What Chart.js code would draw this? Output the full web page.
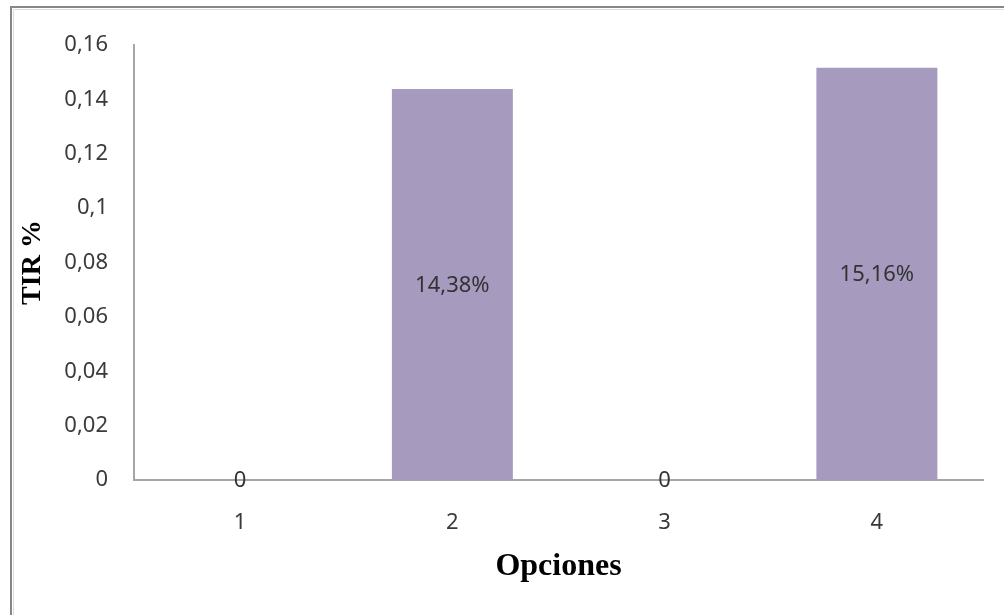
<!DOCTYPE html>
<html>
<head>
<meta charset="utf-8">
<script src="https://cdn.jsdelivr.net/npm/chart.js@4/dist/chart.umd.min.js"></script>
<style>
  html, body { margin: 0; padding: 0; background: #ffffff; }
  #wrap { width: 1004px; height: 615px; position: relative; }
</style>
</head>
<body>
<div id="wrap"><canvas id="c" width="1004" height="615"></canvas></div>
<script>
const categories = ['1', '2', '3', '4'];
const tirValues = [0, 0.1438, 0, 0.1516];
const dataLabels = ['0', '14,38%', '0', '15,16%'];
const yTicks = [0, 0.02, 0.04, 0.06, 0.08, 0.1, 0.12, 0.14, 0.16];
const yTitle = 'TIR %';
const xTitle = 'Opciones';

const frame = {
  id: 'frame',
  beforeDraw(chart) {
    const ctx = chart.ctx;
    ctx.save();
    ctx.fillStyle = '#ffffff';
    ctx.fillRect(0, 0, chart.width, chart.height);
    ctx.strokeStyle = '#dcdcdc';
    ctx.lineWidth = 1;
    ctx.beginPath();
    ctx.moveTo(13.5, 1000); ctx.lineTo(13.5, 9.5); ctx.lineTo(1100, 9.5);
    ctx.stroke();
    ctx.strokeStyle = '#878787';
    ctx.lineWidth = 2;
    ctx.beginPath();
    ctx.moveTo(11, 1000); ctx.lineTo(11, 7); ctx.lineTo(1100, 7);
    ctx.stroke();
    ctx.restore();
  }
};

const barLabels = {
  id: 'barLabels',
  afterDatasetsDraw(chart) {
    const ctx = chart.ctx;
    const meta = chart.getDatasetMeta(0);
    ctx.save();
    ctx.font = '22px "Noto Sans"';
    ctx.fillStyle = '#333333';
    ctx.textAlign = 'center';
    ctx.textBaseline = 'middle';
    meta.data.forEach((bar, i) => {
      const y = (bar.y + bar.base) / 2 + 1;
      ctx.fillText(dataLabels[i], bar.x, y);
    });
    ctx.restore();
  }
};

new Chart(document.getElementById('c'), {
  type: 'bar',
  data: {
    labels: categories,
    datasets: [{
      data: tirValues,
      backgroundColor: '#a69bbf',
      borderWidth: 0,
      categoryPercentage: 1,
      barPercentage: 0.57
    }]
  },
  options: {
    responsive: false,
    animation: false,
    devicePixelRatio: 1,
    layout: { padding: { top: 45, right: 21, left: 0, bottom: 0 } },
    plugins: { legend: { display: false }, tooltip: { enabled: false } },
    scales: {
      x: {
        grid: { display: false, drawTicks: false },
        border: { display: true, color: '#a6a6a6', width: 2 },
        ticks: { color: '#3a3a3a', font: { family: 'Noto Sans', size: 22 }, padding: 30, maxRotation: 0 },
        title: { display: true, text: xTitle, color: '#000000',
                 font: { family: 'Liberation Serif', size: 32, weight: 'bold' },
                 padding: { top: 0, bottom: 29 } },
        afterFit(scale) { scale.height = 135; }
      },
      y: {
        min: 0, max: 0.16,
        grid: { display: false, drawTicks: false },
        border: { display: true, color: '#a6a6a6', width: 2 },
        afterBuildTicks(scale) { scale.ticks = yTicks.map(v => ({ value: v })); },
        ticks: {
          color: '#3a3a3a', font: { family: 'Noto Sans', size: 22 }, padding: 26,
          callback: (v) => String(Math.round(v * 100) / 100).replace('.', ',')
        },
        title: { display: true, text: yTitle, color: '#000000',
                 font: { family: 'Liberation Serif', size: 28, weight: 'bold' },
                 padding: { top: 16, bottom: 0 } },
        afterFit(scale) { scale.width = 134; }
      }
    }
  },
  plugins: [frame, barLabels]
});
</script>
</body>
</html>
